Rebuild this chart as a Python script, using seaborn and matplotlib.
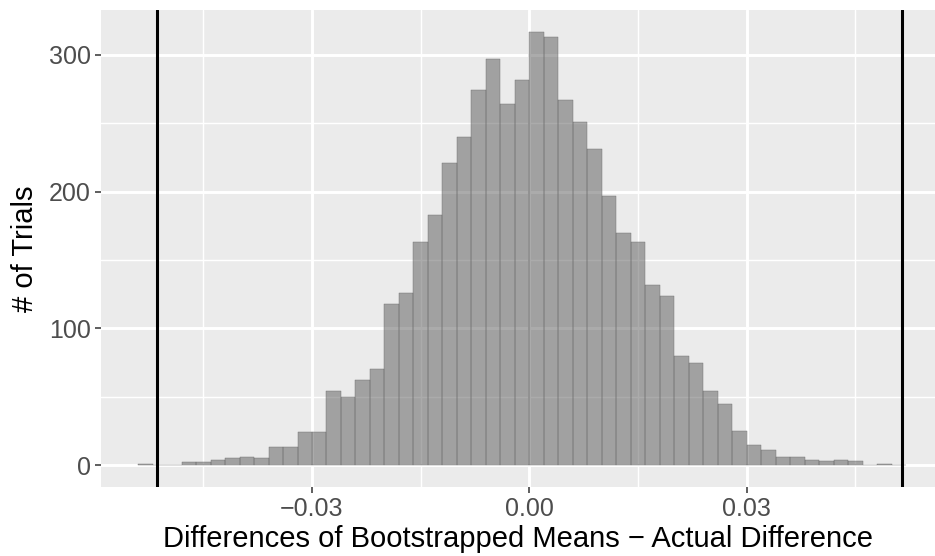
import numpy as np
import pandas as pd
import matplotlib
matplotlib.use("Agg")
import matplotlib.pyplot as plt
import seaborn as sns
from matplotlib.ticker import FixedLocator

# Bootstrap histogram: counts per bin of width 0.002 starting at -0.054
bin_start = -0.054
bin_width = 0.002
counts = [1, 0, 0, 2, 2, 4, 5, 6, 5, 13, 13, 24, 24, 54, 50, 62, 70, 118,
          126, 163, 183, 221, 240, 274, 297, 264, 282, 317, 313, 267, 251,
          231, 197, 170, 163, 132, 124, 80, 75, 54, 45, 25, 15, 11, 6, 6,
          4, 3, 4, 3, 0, 1, 0]
# Cut-off lines for the observed difference
cutoffs = [-0.0514, 0.0514]

x_ticks = [-0.03, 0.00, 0.03]
x_ticklabels = ["\u22120.03", "0.00", "0.03"]
y_ticks = [0, 100, 200, 300]
x_title = "Differences of Bootstrapped Means \u2212 Actual Difference"
y_title = "# of Trials"

n_bins = len(counts)
bin_end = bin_start + bin_width * n_bins
centers = bin_start + bin_width * (np.arange(n_bins) + 0.5)
df = pd.DataFrame({"diff": centers, "n": counts})

sns.set_theme(style="darkgrid", rc={
    "axes.facecolor": "#EBEBEB",
    "grid.color": "white",
    "axes.edgecolor": "#EBEBEB",
})
plt.rcParams["font.family"] = ["Liberation Sans", "DejaVu Sans"]

fig = plt.figure(figsize=(9.35, 5.56), dpi=100)
ax = fig.add_axes([0.108, 0.1246, 0.892, 0.8574])

sns.histplot(data=df, x="diff", weights="n", binwidth=bin_width,
             binrange=(bin_start, bin_end), ax=ax,
             color="#595959", alpha=0.5, edgecolor="#6A6A6A",
             linewidth=0.3)

for c in cutoffs:
    ax.axvline(c, color="black", linewidth=2.2, zorder=3)

ax.set_xlim(-0.05913, 0.05600)
ax.set_ylim(-15.85, 332.85)

ax.xaxis.set_major_locator(FixedLocator(x_ticks))
ax.set_xticklabels(x_ticklabels)
ax.xaxis.set_minor_locator(FixedLocator([-0.045, -0.015, 0.015, 0.045]))
ax.yaxis.set_major_locator(FixedLocator(y_ticks))
ax.yaxis.set_minor_locator(FixedLocator([50, 150, 250]))

ax.set_axisbelow(True)
ax.grid(which="major", color="white", linewidth=2.1)
ax.grid(which="minor", color="white", linewidth=1.05)

ax.tick_params(axis="both", which="major", length=4.3, width=1.1,
               color="#333333", labelcolor="#4D4D4D", labelsize=18,
               pad=3, bottom=True, left=True)
ax.tick_params(axis="both", which="minor", length=0)

ax.set_xlabel(x_title, fontsize=21, color="black", labelpad=3)
ax.set_ylabel(y_title, fontsize=21, color="black", labelpad=7)

for s in ax.spines.values():
    s.set_visible(False)

fig.savefig("out.png", dpi=100)
